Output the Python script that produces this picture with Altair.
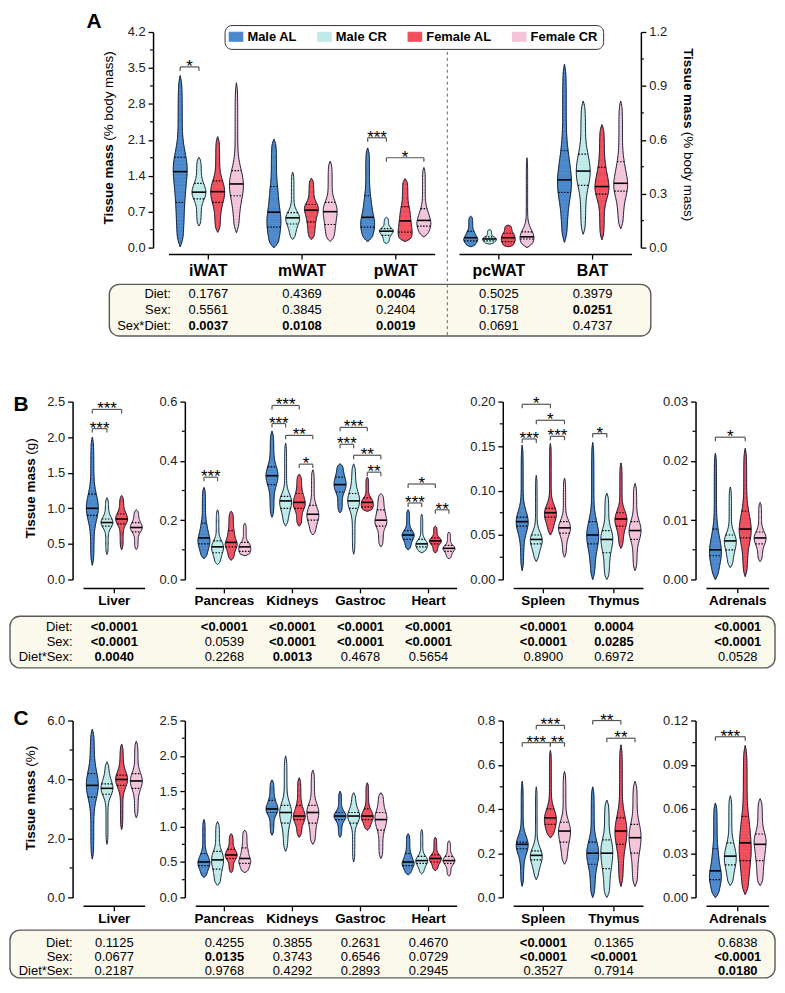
import numpy as np
import pandas as pd
import altair as alt

GROUPS = ["Male AL", "Male CR", "Female AL", "Female CR"]
COLORS = ["#4A88CB", "#BFEAE8", "#EF4E5B", "#F4C4D9"]
OUTLINE = "#1C2541"
FONT = "Liberation Sans"

# ---------- Panel A: tissue mass (% body mass); per group [min, q1, median, q3, max]
A_TISSUES = ["iWAT", "mWAT", "pWAT", "pcWAT", "BAT"]
A_iWAT = [[0.02, 0.88, 1.48, 1.76, 3.35], [0.42, 0.95, 1.08, 1.25, 1.76], [0.30, 0.88, 1.09, 1.30, 2.16], [0.29, 1.01, 1.24, 1.50, 3.21]]
A_mWAT = [[0.0, 0.40, 0.69, 1.19, 2.11], [0.16, 0.46, 0.58, 0.68, 1.47], [0.16, 0.50, 0.73, 0.84, 1.35], [0.12, 0.45, 0.70, 0.88, 1.68]]
A_pWAT = [[0.12, 0.40, 0.59, 1.01, 1.94], [0.08, 0.24, 0.32, 0.37, 0.59], [0.12, 0.30, 0.52, 0.80, 1.34], [0.21, 0.42, 0.53, 0.76, 1.56]]
A_pcWAT = [[0.005, 0.037, 0.055, 0.09, 0.175], [0.02, 0.037, 0.048, 0.06, 0.10], [0.005, 0.033, 0.055, 0.08, 0.125], [0.0, 0.048, 0.06, 0.088, 0.50]]
A_BAT = [[0.03, 0.307, 0.377, 0.539, 1.02], [0.074, 0.346, 0.426, 0.52, 0.816], [0.044, 0.298, 0.34, 0.447, 0.684], [0.105, 0.314, 0.358, 0.478, 0.816]]
A_DIET = ["0.1767", "0.4369", "0.0046", "0.5025", "0.3979"]
A_SEX = ["0.5561", "0.3845", "0.2404", "0.1758", "0.0251"]
A_SEXDIET = ["0.0037", "0.0108", "0.0019", "0.0691", "0.4737"]
# brackets: (tissue index, group a, group b, level, label)
A_BR = [(0, 0, 1, 3.52, "*"), (2, 0, 1, 2.14, "***"), (2, 1, 3, 1.75, "*")]

# ---------- Panel B: tissue mass (g)
B_TISSUES = ["Liver", "Pancreas", "Kidneys", "Gastroc", "Heart", "Spleen", "Thymus", "Adrenals"]
B_Liver = [[0.2, 0.9, 1.0, 1.2, 2.0], [0.35, 0.75, 0.8, 0.85, 1.15], [0.42, 0.78, 0.85, 0.92, 1.18], [0.42, 0.67, 0.73, 0.80, 0.98]]
B_Pancreas = [[0.07, 0.12, 0.14, 0.19, 0.31], [0.05, 0.09, 0.11, 0.13, 0.235], [0.065, 0.11, 0.125, 0.165, 0.23], [0.08, 0.095, 0.11, 0.125, 0.19]]
B_Kidneys = [[0.21, 0.32, 0.35, 0.38, 0.50], [0.18, 0.24, 0.265, 0.28, 0.46], [0.18, 0.24, 0.26, 0.29, 0.355], [0.15, 0.20, 0.22, 0.25, 0.37]]
B_Gastroc = [[0.225, 0.295, 0.32, 0.345, 0.39], [0.085, 0.24, 0.265, 0.29, 0.39], [0.23, 0.245, 0.26, 0.275, 0.345], [0.11, 0.18, 0.20, 0.235, 0.29]]
B_Heart = [[0.10, 0.135, 0.15, 0.165, 0.235], [0.09, 0.11, 0.12, 0.135, 0.22], [0.09, 0.12, 0.13, 0.14, 0.18], [0.07, 0.095, 0.105, 0.115, 0.16]]
B_Spleen = [[0.01, 0.06, 0.065, 0.07, 0.151], [0.02, 0.04, 0.045, 0.05, 0.117], [0.05, 0.07, 0.075, 0.08, 0.153], [0.025, 0.052, 0.058, 0.065, 0.114]]
B_Thymus = [[0.0, 0.04, 0.05, 0.065, 0.154], [0.0, 0.03, 0.045, 0.055, 0.097], [0.035, 0.06, 0.068, 0.075, 0.131], [0.01, 0.045, 0.055, 0.065, 0.108]]
B_Adrenals = [[0.0, 0.004, 0.005, 0.0085, 0.0213], [0.002, 0.005, 0.0065, 0.0075, 0.0156], [0.0005, 0.007, 0.0085, 0.0115, 0.0221], [0.003, 0.006, 0.007, 0.008, 0.013]]
B_DIET = ["<0.0001", "<0.0001", "<0.0001", "<0.0001", "<0.0001", "<0.0001", "0.0004", "<0.0001"]
B_SEX = ["<0.0001", "0.0539", "<0.0001", "<0.0001", "<0.0001", "<0.0001", "0.0285", "<0.0001"]
B_DIETSEX = ["0.0040", "0.2268", "0.0013", "0.4678", "0.5654", "0.8900", "0.6972", "0.0528"]
B_BR_LIVER = [(0, 0, 2, 2.39, "***"), (0, 0, 1, 2.12, "***")]
B_BR_MID = [(0, 0, 1, 0.345, "***"),
            (1, 0, 2, 0.587, "***"), (1, 0, 1, 0.526, "***"), (1, 1, 3, 0.486, "**"), (1, 2, 3, 0.389, "*"),
            (2, 0, 2, 0.513, "***"), (2, 0, 1, 0.456, "***"), (2, 1, 3, 0.419, "**"), (2, 2, 3, 0.362, "**"),
            (3, 0, 2, 0.322, "*"), (3, 0, 1, 0.258, "***"), (3, 2, 3, 0.235, "**")]
B_BR_SPL = [(0, 0, 2, 0.197, "*"), (0, 1, 3, 0.179, "*"), (0, 0, 1, 0.158, "***"), (0, 2, 3, 0.161, "***"), (1, 0, 1, 0.164, "*")]
B_BR_ADR = [(0, 0, 2, 0.024, "*")]

# ---------- Panel C: tissue mass (%)
C_Liver = [[1.3, 3.4, 3.8, 4.2, 5.7], [1.8, 3.5, 3.7, 3.85, 4.6], [2.3, 3.8, 4.0, 4.15, 5.2], [2.7, 3.7, 3.95, 4.2, 5.3]]
C_Pancreas = [[0.28, 0.45, 0.5, 0.62, 1.1], [0.17, 0.4, 0.53, 0.65, 1.07], [0.35, 0.55, 0.6, 0.68, 0.9], [0.35, 0.48, 0.55, 0.7, 0.95]]
C_Kidneys = [[0.88, 1.2, 1.25, 1.37, 1.66], [0.65, 1.05, 1.2, 1.3, 2.0], [0.85, 1.1, 1.15, 1.3, 1.69], [0.75, 1.05, 1.2, 1.3, 1.8]]
C_Gastroc = [[0.85, 1.1, 1.15, 1.2, 1.5], [0.5, 1.05, 1.15, 1.2, 1.48], [0.95, 1.1, 1.15, 1.25, 1.62], [0.55, 0.95, 1.1, 1.2, 1.48]]
C_Heart = [[0.32, 0.45, 0.5, 0.62, 0.9], [0.33, 0.48, 0.52, 0.58, 0.96], [0.38, 0.5, 0.55, 0.6, 0.85], [0.3, 0.48, 0.52, 0.58, 0.8]]
C_Spleen = [[0.05, 0.22, 0.24, 0.25, 0.525], [0.08, 0.17, 0.19, 0.21, 0.5], [0.27, 0.33, 0.36, 0.4, 0.665], [0.15, 0.25, 0.3, 0.34, 0.57]]
C_Thymus = [[0.0, 0.15, 0.2, 0.25, 0.5], [0.0, 0.13, 0.2, 0.26, 0.44], [0.05, 0.24, 0.3, 0.36, 0.69], [0.05, 0.2, 0.27, 0.33, 0.525]]
C_Adrenals = [[0.0, 0.012, 0.018, 0.033, 0.064], [0.008, 0.022, 0.028, 0.037, 0.069], [0.002, 0.025, 0.037, 0.055, 0.103], [0.008, 0.025, 0.036, 0.043, 0.067]]
C_DIET = ["0.1125", "0.4255", "0.3855", "0.2631", "0.4670", "<0.0001", "0.1365", "0.6838"]
C_SEX = ["0.0677", "0.0135", "0.3743", "0.6546", "0.0729", "<0.0001", "<0.0001", "<0.0001"]
C_DIETSEX = ["0.2187", "0.9768", "0.4292", "0.2893", "0.2945", "0.3527", "0.7914", "0.0180"]
C_BR_SPL = [(0, 1, 3, 0.778, "***"), (0, 0, 2, 0.70, "***"), (0, 2, 3, 0.70, "**"), (1, 0, 2, 0.80, "**"), (1, 1, 3, 0.72, "**")]
C_BR_ADR = [(0, 0, 2, 0.109, "***")]

CSCALE = alt.Scale(domain=GROUPS, range=COLORS)
LEGEND = alt.Legend(title=None)
ONE = pd.DataFrame({"a": [0]})
GOFF = 0.2
NPTS = 50


def is_bold(s):
    return s.startswith("<") or float(s) < 0.05


def profile(s):
    mn, q1, md, q3, mx = s
    p = (np.arange(400) + 0.5) / 400
    samp = np.interp(p, [0, 0.25, 0.5, 0.75, 1.0], s)
    rng = mx - mn
    h = 0.08 * rng
    yy = np.linspace(mn, mx, NPTS)
    d = np.exp(-0.5 * ((yy[:, None] - samp[None, :]) / h) ** 2).sum(1)
    d = d / d.max()
    edge = np.minimum(yy - mn, mx - yy) / (0.05 * rng)
    d = d * np.clip(edge, 0, 1) ** 0.6
    return yy, d


def txt(text, x, y, size=13, weight="normal", align="center", baseline="middle", angle=0, dy=0):
    return alt.Chart(ONE).mark_text(text=text, font=FONT, fontSize=size, fontWeight=weight, align=align,
                                    baseline=baseline, angle=angle, dy=dy, color="black").encode(
        x=alt.value(x), y=alt.value(y))


def frame(x0, x1, y0, y1):
    return alt.Chart(ONE).mark_rect(opacity=0).encode(
        x=alt.value(x0), x2=alt.value(x1), y=alt.value(y0), y2=alt.value(y1))


def make_yaxis(values, fmt, orient, offset):
    return alt.Axis(values=values, format=fmt, orient=orient, offset=offset, title=None, domainColor="black",
                    domainWidth=1.5, tickColor="black", tickWidth=1.3, tickSize=5, labelFontSize=13,
                    labelFont=FONT, labelColor="#222", labelPadding=3, grid=False, labelFlush=False,
                    labelOverlap=False)


def data_layers(positions, names, summaries, xs, ys, hw_units, yaxis, yminor, minor_x, brackets, tick_units,
                tables, table_y, line_y, lab_dy, lab_size):
    rects, outl, med, qrt = [], [], [], []
    for t, summ in zip(positions, summaries):
        for g, s in enumerate(summ):
            c = t + (g - 1.5) * GOFF
            yy, d = profile(s)
            w = d * hw_units
            vid = f"{t}-{g}"
            for k in range(NPTS - 1):
                wm = (w[k] + w[k + 1]) / 2
                rects.append({"g": GROUPS[g], "y": yy[k], "y2": yy[k + 1], "x": c - wm, "x2": c + wm})
            pts = [(c - w[k], yy[k]) for k in range(NPTS)] + [(c + w[k], yy[k]) for k in range(NPTS - 1, -1, -1)]
            for k, (px, py) in enumerate(pts):
                outl.append({"vid": vid, "x": px, "y": py, "k": k})
            for v, lst in ((s[2], med), (s[1], qrt), (s[3], qrt)):
                wv = float(np.interp(v, yy, w))
                lst.append({"y": v, "xl": c - wv, "xr": c + wv})
    L = []
    L.append(alt.Chart(pd.DataFrame(rects)).mark_rect(strokeWidth=0.6).encode(
        x=alt.X("x:Q", scale=xs, axis=None), x2="x2:Q",
        y=alt.Y("y:Q", scale=ys, axis=yaxis), y2="y2:Q",
        color=alt.Color("g:N", scale=CSCALE, legend=LEGEND),
        stroke=alt.Stroke("g:N", scale=CSCALE, legend=None)))
    L.append(alt.Chart(pd.DataFrame(outl)).mark_line(color=OUTLINE, strokeWidth=1, strokeJoin="round").encode(
        x=alt.X("x:Q", scale=xs, axis=None), y=alt.Y("y:Q", scale=ys, axis=None), detail="vid:N", order="k:Q"))
    L.append(alt.Chart(pd.DataFrame(qrt)).mark_rule(color="black", strokeWidth=1.2, strokeDash=[1.5, 1.5]).encode(
        y=alt.Y("y:Q", scale=ys, axis=None), x=alt.X("xl:Q", scale=xs, axis=None), x2="xr:Q"))
    L.append(alt.Chart(pd.DataFrame(med)).mark_rule(color="black", strokeWidth=1.6).encode(
        y=alt.Y("y:Q", scale=ys, axis=None), x=alt.X("xl:Q", scale=xs, axis=None), x2="xr:Q"))
    if yminor:
        L.append(alt.Chart(pd.DataFrame({"v": yminor})).mark_rule(color="black", strokeWidth=1.2).encode(
            y=alt.Y("v:Q", scale=ys, axis=None), x=alt.value(minor_x[0]), x2=alt.value(minor_x[1])))
    # x-axis: line, ticks and bold tissue labels
    L.append(alt.Chart(pd.DataFrame({"a": [positions[0] - 0.42], "b": [positions[-1] + 0.42]})).mark_rule(
        color="black", strokeWidth=1.5).encode(x=alt.X("a:Q", scale=xs, axis=None), x2="b:Q", y=alt.value(line_y)))
    tdf = pd.DataFrame({"p": list(positions), "n": list(names)})
    L.append(alt.Chart(tdf).mark_rule(color="black", strokeWidth=1.3).encode(
        x=alt.X("p:Q", scale=xs, axis=None), y=alt.value(line_y), y2=alt.value(line_y + 5)))
    L.append(alt.Chart(tdf).mark_text(font=FONT, fontSize=lab_size, fontWeight="bold", baseline="middle",
                                      color="black").encode(
        x=alt.X("p:Q", scale=xs, axis=None), y=alt.value(line_y + lab_dy), text="n:N"))
    if brackets:
        br, st = [], []
        for t, ga, gb, lev, lab in brackets:
            xa = positions[t] + (ga - 1.5) * GOFF
            xb = positions[t] + (gb - 1.5) * GOFF
            br.append({"x": xa, "x2": xb, "y": lev, "y2": lev})
            br.append({"x": xa, "x2": xa, "y": lev, "y2": lev - tick_units})
            br.append({"x": xb, "x2": xb, "y": lev, "y2": lev - tick_units})
            st.append({"x": (xa + xb) / 2, "y": lev, "lab": lab})
        L.append(alt.Chart(pd.DataFrame(br)).mark_rule(color="#555", strokeWidth=1.2).encode(
            x=alt.X("x:Q", scale=xs, axis=None), x2="x2:Q", y=alt.Y("y:Q", scale=ys, axis=None), y2="y2:Q"))
        L.append(alt.Chart(pd.DataFrame(st)).mark_text(font=FONT, fontSize=17, dy=5, baseline="alphabetic",
                                                       color="black").encode(
            x=alt.X("x:Q", scale=xs, axis=None), y=alt.Y("y:Q", scale=ys, axis=None), text="lab:N"))
    for vals, yv in zip(tables, table_y):
        df = pd.DataFrame({"pos": list(positions), "t": vals, "b": [is_bold(v) for v in vals]})
        for flag, wt in ((True, "bold"), (False, "normal")):
            sub = df[df["b"] == flag]
            if len(sub):
                L.append(alt.Chart(sub).mark_text(font=FONT, fontSize=13, fontWeight=wt, baseline="middle",
                                                  color="black").encode(
                    x=alt.X("pos:Q", scale=xs, axis=None), y=alt.value(yv), text="t:N"))
    return L


def box(x0, x1, y0, y1):
    return alt.Chart(ONE).mark_rect(cornerRadius=10, fill="#FBF8EC", stroke="#5a5a5a", strokeWidth=1.4).encode(
        x=alt.value(x0), x2=alt.value(x1), y=alt.value(y0), y2=alt.value(y1))


def ylabel(x, y, bold, rest, angle):
    if angle == 270:
        return [txt(bold, x, y, 13.5, "bold", "right", "middle", 270),
                txt(rest, x, y - 3.5, 13.5, "normal", "left", "middle", 270)]
    return [txt(bold, x, y, 13.5, "bold", "right", "middle", 90),
            txt(rest, x, y + 3.5, 13.5, "normal", "left", "middle", 90)]


def rowlabels(x, ys, labels):
    return [txt(l, x, y, 13, "normal", "right", "middle") for l, y in zip(labels, ys)]


def spacer(w, h):
    return alt.Chart(ONE).mark_point(opacity=0).encode(
        x=alt.X("a:Q", axis=None), y=alt.Y("a:Q", axis=None)).properties(width=w, height=h)


# ---------------- Row A (one view, two y scales)
A_W, A_H = 466, 217
A_POS_L = [0, 1, 2]
A_POS_R = [3.1, 4.1]
A_TY = [264, 280, 296]
xsA = alt.Scale(domain=[-0.42, 4.52], nice=False, zero=False)
pxuA = A_W / 4.94
ysAL = alt.Scale(domain=[0, 4.2], nice=False, zero=False)
ysAR = alt.Scale(domain=[0, 1.2], nice=False, zero=False)
layersA = [frame(-161, 612, -21, 331), box(-60, 485, 254, 306)]
layersA += data_layers(A_POS_L, A_TISSUES[:3], [A_iWAT, A_mWAT, A_pWAT], xsA, ysAL, 7 / pxuA,
                       make_yaxis([0, 0.7, 1.4, 2.1, 2.8, 3.5, 4.2], ".1f", "left", 16),
                       [0.35, 1.05, 1.75, 2.45, 3.15, 3.85], (-16, -19), A_BR, 4 * 4.2 / A_H,
                       [A_DIET[:3], A_SEX[:3], A_SEXDIET[:3]], A_TY, A_H + 7, 17, 16)
layersA += data_layers(A_POS_R, A_TISSUES[3:], [A_pcWAT, A_BAT], xsA, ysAR, 7 / pxuA,
                       make_yaxis([0, 0.3, 0.6, 0.9, 1.2], ".1f", "right", 9),
                       [0.15, 0.45, 0.75, 1.05], (A_W + 9, A_W + 12), [], 1,
                       [A_DIET[3:], A_SEX[3:], A_SEXDIET[3:]], A_TY, A_H + 7, 17, 16)
sep = (A_POS_L[-1] + A_POS_R[0]) / 2
layersA += [alt.Chart(pd.DataFrame({"s": [sep]})).mark_rule(color="#666", strokeWidth=1, strokeDash=[3, 3]).encode(
    x=alt.X("s:Q", scale=xsA, axis=None), y=alt.value(14), y2=alt.value(306)),
    txt("A", -75.5, -21, 21, "bold", "center", "top")]
layersA += ylabel(-60, 113, "Tissue mass", "(% body mass)", 270)
layersA += ylabel(522.5, 97, "Tissue mass", "(% body mass)", 90)
layersA += rowlabels(2, A_TY, ["Diet:", "Sex:", "Sex*Diet:"])
chartA = alt.layer(*layersA).resolve_scale(y="independent").properties(width=A_W, height=A_H)
rowA = alt.hconcat(spacer(35, 1), chartA, spacing=51, bounds="flush").resolve_scale(x="independent", y="independent")


# ---------------- Rows B and C (four views each)
def build_row(summ, ydoms, majors, minors, fmts, brs, dvals, svals, dsvals, ty, boxy, framey, letter, lety,
              unit, unity, height):
    sl = [slice(0, 1), slice(1, 5), slice(5, 7), slice(7, 8)]
    widths = [62, 269, 143, 63]
    pxus = [62 / 0.84, 68.5, 71.0, 75.0]
    ps = []
    for i in range(4):
        names = B_TISSUES[sl[i]]
        pos = list(range(len(names)))
        xs = alt.Scale(domain=[-0.42, -0.42 + widths[i] / pxus[i]], nice=False, zero=False)
        ys = alt.Scale(domain=list(ydoms[i]), nice=False, zero=False)
        L = []
        if i == 0:
            L += [frame(-75, 698, framey[0], framey[1]), box(-74, 696, boxy[0], boxy[1])]
        L += data_layers(pos, names, summ[sl[i]], xs, ys, 6 / pxus[i],
                         make_yaxis(majors[i], fmts[i], "left", 11), minors[i], (-11, -14), brs[i],
                         4 * (ydoms[i][1] - ydoms[i][0]) / height,
                         [dvals[sl[i]], svals[sl[i]], dsvals[sl[i]]], ty, height + 9, 12.5, 13.5)
        if i == 0:
            L += [txt(letter, -63, lety, 21, "bold", "center", "top")]
            L += ylabel(-53, unity, "Tissue mass", unit, 270)
            L += rowlabels(-11, ty, ["Diet:", "Sex:", "Diet*Sex:"])
        ps.append(alt.layer(*L).resolve_scale(y="independent").properties(width=widths[i], height=height))
    return alt.hconcat(*ps, spacing=51, bounds="flush").resolve_scale(x="independent", y="independent")


rowB = build_row([B_Liver, B_Pancreas, B_Kidneys, B_Gastroc, B_Heart, B_Spleen, B_Thymus, B_Adrenals],
                 [(0, 2.5), (0, 0.6), (0, 0.2), (0, 0.03)],
                 [[0, 0.5, 1.0, 1.5, 2.0, 2.5], [0, 0.2, 0.4, 0.6], [0, 0.05, 0.10, 0.15, 0.20], [0, 0.01, 0.02, 0.03]],
                 [[], [0.1, 0.3, 0.5], [0.025, 0.075, 0.125, 0.175], [0.005, 0.015, 0.025]],
                 [".1f", ".1f", ".2f", ".2f"],
                 [B_BR_LIVER, B_BR_MID, B_BR_SPL, B_BR_ADR],
                 B_DIET, B_SEX, B_DIETSEX, [227, 242, 257], (216, 268), (-9, 276), "B", -7.5, "(g)", 57, 179)

rowC = build_row([C_Liver, C_Pancreas, C_Kidneys, C_Gastroc, C_Heart, C_Spleen, C_Thymus, C_Adrenals],
                 [(0, 6.0), (0, 2.5), (0, 0.8), (0, 0.12)],
                 [[0, 2.0, 4.0, 6.0], [0, 0.5, 1.0, 1.5, 2.0, 2.5], [0, 0.2, 0.4, 0.6, 0.8], [0, 0.03, 0.06, 0.09, 0.12]],
                 [[1.0, 3.0, 5.0], [0.25, 0.75, 1.25, 1.75, 2.25], [0.1, 0.3, 0.5, 0.7], [0.015, 0.045, 0.075, 0.105]],
                 [".1f", ".1f", ".1f", ".2f"],
                 [[], [], C_BR_SPL, C_BR_ADR],
                 C_DIET, C_SEX, C_DIETSEX, [224, 238, 252], (211, 259), (-13, 260), "C", -13, "(%)", 50, 178)

chart = alt.vconcat(rowA, rowB, rowC, spacing=32, bounds="full").resolve_scale(x="independent", y="independent")

chart = chart.properties(padding={"left": 1, "top": 0, "right": 0, "bottom": 0}).configure_view(
    stroke=None).configure_legend(
    orient="none", legendX=142, legendY=-7, direction="horizontal",
    symbolType="M-1.35,-0.9H1.35V0.9H-1.35Z", symbolSize=100, symbolStrokeColor=OUTLINE,
    symbolStrokeWidth=1.2, symbolOpacity=1, labelFont=FONT, labelFontSize=13, labelFontWeight="bold",
    labelColor="black", labelOffset=5, columnPadding=18, padding=5, strokeColor="#333",
    cornerRadius=7, fillColor="white")

chart.save("out.html", embed_options={"renderer": "svg", "actions": False})
